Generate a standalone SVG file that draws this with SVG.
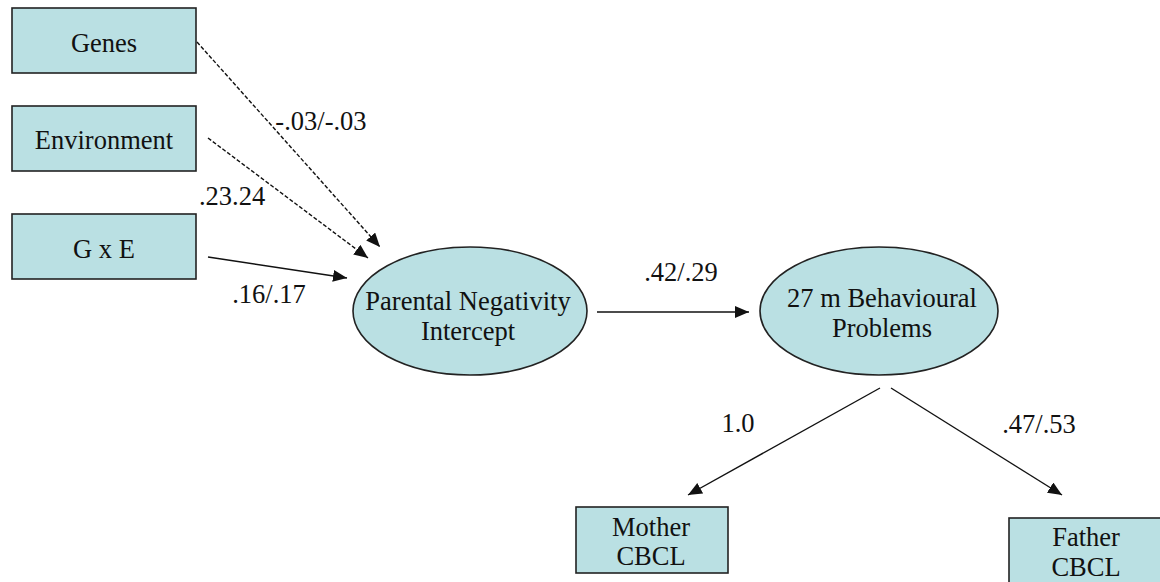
<svg xmlns="http://www.w3.org/2000/svg" width="1160" height="582" viewBox="0 0 1160 582">
<style>
.box{fill:#bae0e3;stroke:#222;stroke-width:1.6}
.t{font-family:"Liberation Serif","Times New Roman",serif;font-size:26.5px;fill:#111;text-anchor:middle}
.c{stroke:#111;stroke-width:1.4;fill:none;marker-end:url(#ah)}
.d{stroke-dasharray:4 2}
</style>
<defs>
<marker id="ah" markerUnits="userSpaceOnUse" markerWidth="16" markerHeight="14" refX="14" refY="6" orient="auto">
<path d="M0,0 L14,6 L0,12 Z" fill="#111"/>
</marker>
</defs>
<rect width="1160" height="582" fill="#fff"/>
<g id="connectors">
<line class="c d" x1="197" y1="42" x2="380" y2="247"/>
<line class="c d" x1="208" y1="138" x2="368" y2="258"/>
<line class="c" x1="208" y1="257" x2="347" y2="278"/>
<line class="c" x1="597" y1="312" x2="749" y2="312"/>
<line class="c" x1="880" y1="388" x2="688" y2="495"/>
<line class="c" x1="891" y1="388" x2="1062" y2="495"/>
<text class="t" x="321" y="130">-.03/-.03</text>
<text class="t" x="232" y="205">.23.24</text>
<text class="t" x="269" y="303">.16/.17</text>
<text class="t" x="681" y="281">.42/.29</text>
<text class="t" x="738" y="432">1.0</text>
<text class="t" x="1039" y="433">.47/.53</text>
</g>
<g id="genes">
<rect class="box" x="12" y="8" width="184" height="65"/>
<text class="t" x="104" y="52">Genes</text>
</g>
<g id="environment">
<rect class="box" x="12" y="106" width="184" height="65"/>
<text class="t" x="104" y="149">Environment</text>
</g>
<g id="gxe">
<rect class="box" x="12" y="214" width="184" height="65"/>
<text class="t" x="104" y="258">G x E</text>
</g>
<g id="parental">
<ellipse class="box" cx="470" cy="311" rx="117" ry="64"/>
<text class="t" x="468" y="310">Parental Negativity</text>
<text class="t" x="468" y="340">Intercept</text>
</g>
<g id="behaviour">
<ellipse class="box" cx="879" cy="311" rx="119" ry="64"/>
<text class="t" x="882" y="307">27 m Behavioural</text>
<text class="t" x="882" y="337">Problems</text>
</g>
<g id="mother">
<rect class="box" x="576" y="507" width="152" height="66"/>
<text class="t" x="651" y="536">Mother</text>
<text class="t" x="651" y="565">CBCL</text>
</g>
<g id="father">
<rect class="box" x="1009" y="518" width="152" height="70"/>
<text class="t" x="1086" y="546">Father</text>
<text class="t" x="1086" y="576">CBCL</text>
</g>
</svg>
